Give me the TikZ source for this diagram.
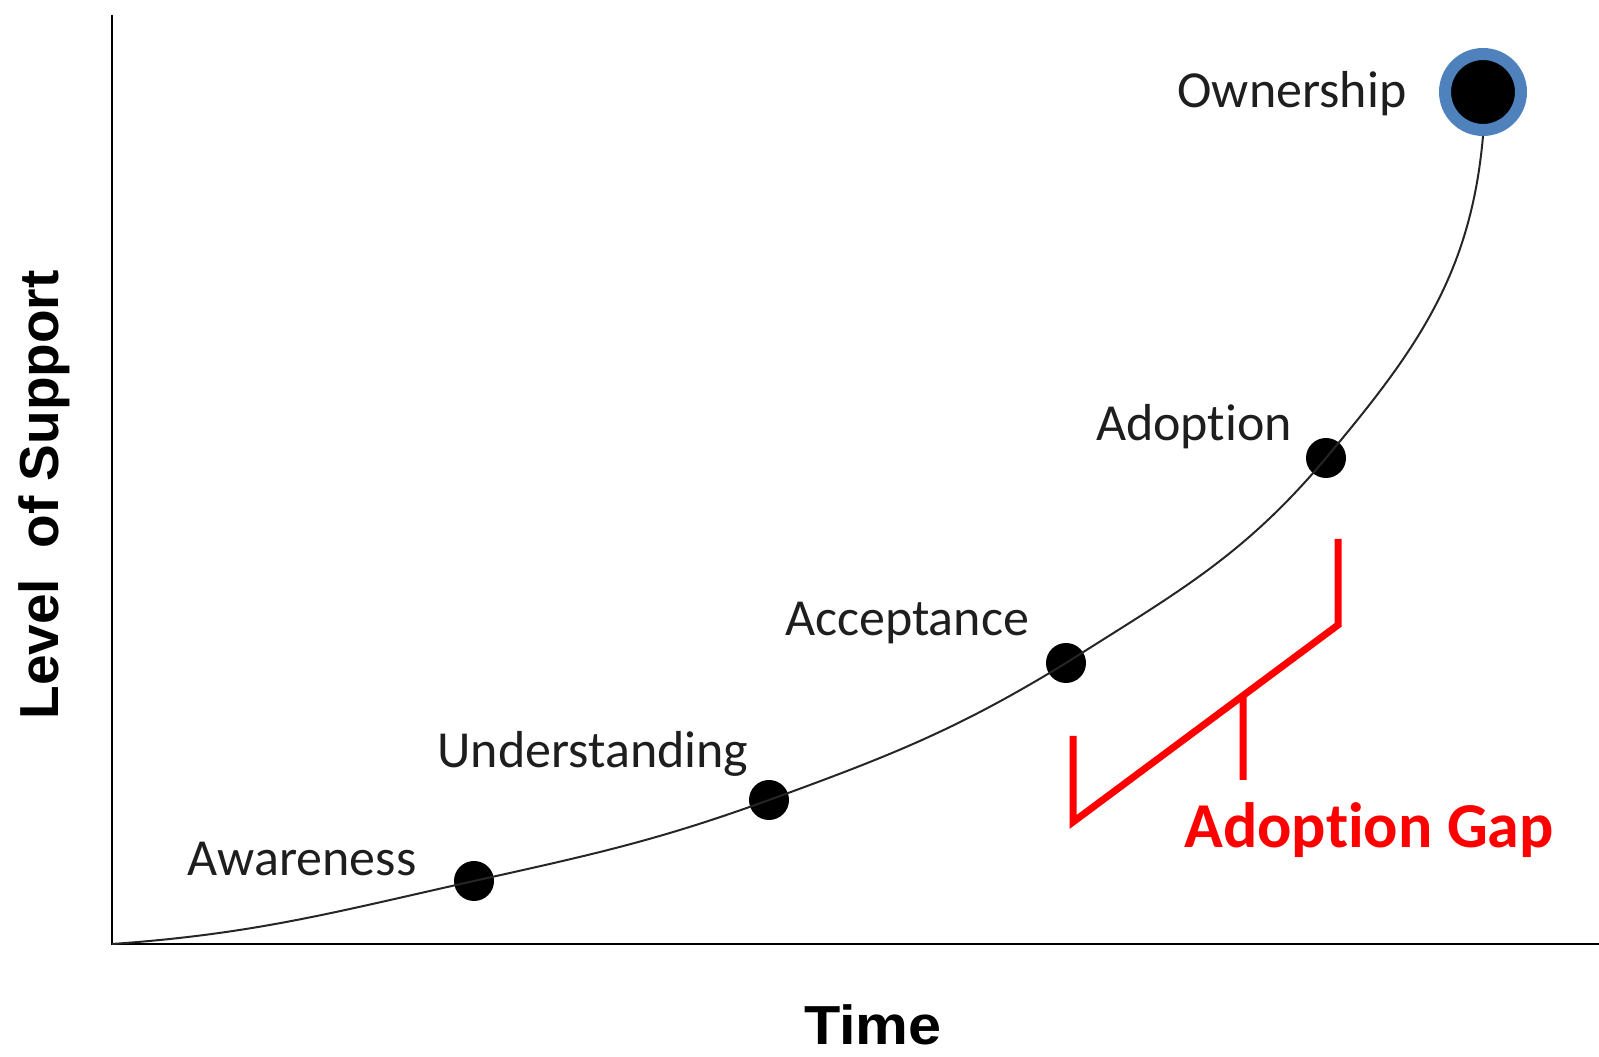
\documentclass[tikz,border=0pt]{standalone}
\usepackage{fontspec}
\usetikzlibrary{calc}
\setmainfont{Carlito}[Ligatures=NoCommon]
\newfontfamily\axisfont{Liberation Sans}
\definecolor{labelgray}{RGB}{30,30,30}
\definecolor{ringblue}{RGB}{79,129,189}
\definecolor{gapred}{RGB}{255,0,0}
\begin{document}
\begin{tikzpicture}[x=1pt,y=1pt,
  dot/.style={circle, fill=black, inner sep=0pt, minimum size=40pt},
  topdot/.style={circle, fill=black, draw=ringblue, line width=12pt, inner sep=0pt, minimum size=76pt},
  stage/.style={font=\fontsize{52}{62}\selectfont, text=labelgray, inner sep=0pt, anchor=base},
  axislabel/.style={font=\axisfont\bfseries\fontsize{55}{66}\selectfont, text=black, inner sep=0pt, anchor=base},
  trend/.style={line width=2pt, draw=black!85},
  axisline/.style={line width=2.5pt, draw=black},
  gap/.style={draw=gapred, line width=7pt},
]
\useasboundingbox (0,0) rectangle (1599,1057);

% axes
\coordinate (O) at (112,113);
\coordinate (ytop) at (112,1042);
\coordinate (xend) at (1599,113);
\draw[axisline] (ytop) -- (O) -- (xend);

% stage markers
\node[dot] (aw) at (474,176) {};
\node[dot] (un) at (769,257) {};
\node[dot] (ac) at (1066,394) {};
\node[dot] (ad) at (1326,599) {};
\node[topdot] (own) at (1483,965) {};

% support curve through the stages
\draw[trend] (O) to[out=4,in=192.6] (aw.center)
  to[out=12.6,in=200] (un.center)
  to[out=20,in=211.5] (ac.center)
  to[out=32.5,in=230] (ad.center)
  to[out=50,in=-95] (own.south);

% stage labels
\node[stage] (lown) at (1292,949) {Ownership};
\node[stage] (lad) at (1194,616) {Adoption};
\node[stage] (lac) at (907,421) {Acceptance};
\node[stage] (lun) at (593,289) {Understanding};
\node[stage] (law) at (302,181) {Awareness};

% axis titles
\node[axislabel] (xt) at (873,12) {\scalebox{1.08}[1]{Time}};
\node[axislabel, rotate=90] (yt) at (58,562) {Level~~of Support};

% adoption gap bracket
\coordinate (g1) at (1073,321);
\coordinate (g2) at (1073,235);
\coordinate (g3) at (1338,432);
\coordinate (g4) at (1338,518);
\coordinate (gm) at ($(g2)!0.6415!(g3)$);
\draw[gap, line join=miter] (g1) -- (g2) -- (g3) -- (g4);
\coordinate (gb) at (1243,277);
\draw[gap] (gm) -- (gb);
\node[font=\bfseries\fontsize{64}{76}\selectfont, text=gapred, inner sep=0pt, anchor=base] (gt) at (1369,209) {Adoption Gap};
\end{tikzpicture}
\end{document}
